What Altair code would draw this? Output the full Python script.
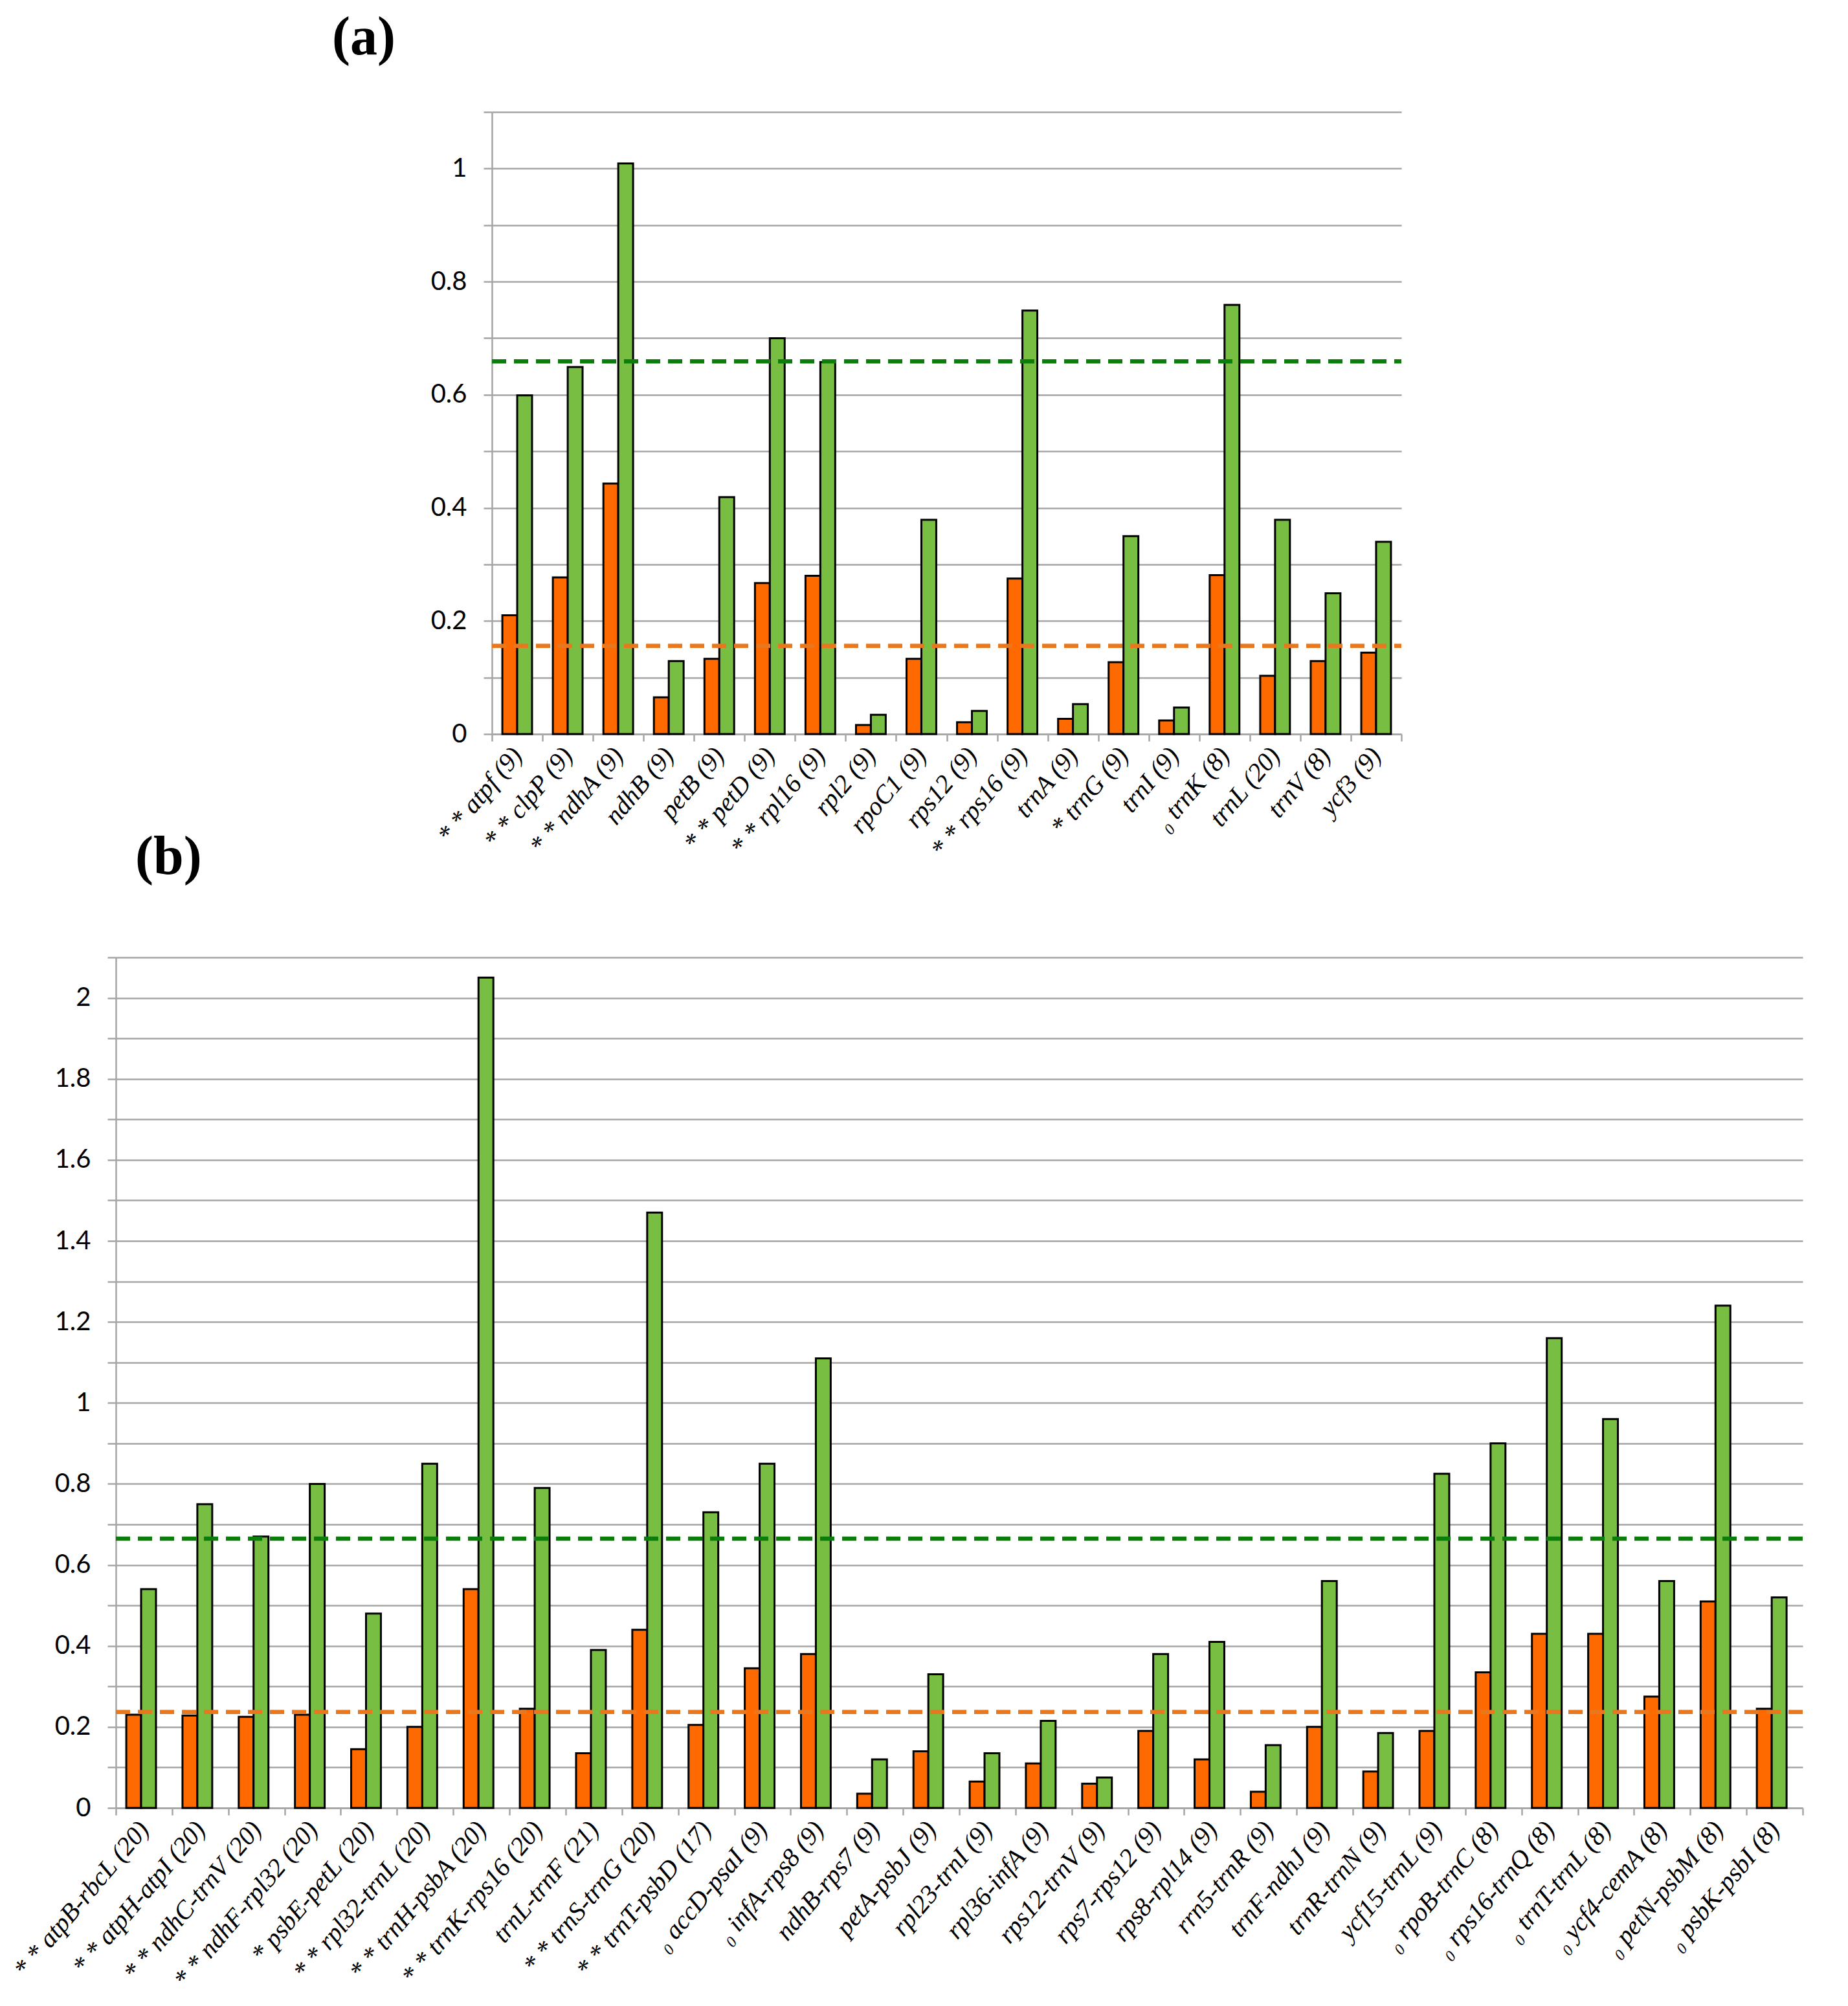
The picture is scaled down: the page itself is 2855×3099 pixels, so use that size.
import altair as alt
import pandas as pd

# ---------------- data ----------------
genes_a = ["* * atpf (9)", "* * clpP (9)", "* * ndhA (9)", "ndhB (9)", "petB (9)",
           "* * petD (9)", "* * rpl16 (9)", "rpl2 (9)", "rpoC1 (9)", "rps12 (9)",
           "* * rps16 (9)", "trnA (9)", "* trnG (9)", "trnI (9)", "\u2080 trnK (8)",
           "trnL (20)", "trnV (8)", "ycf3 (9)"]
orange_a = [0.21, 0.277, 0.443, 0.065, 0.133, 0.267, 0.280, 0.016, 0.133, 0.021,
            0.275, 0.027, 0.127, 0.024, 0.281, 0.103, 0.129, 0.144]
green_a = [0.599, 0.649, 1.009, 0.129, 0.419, 0.700, 0.658, 0.034, 0.379, 0.041,
           0.749, 0.053, 0.350, 0.047, 0.759, 0.379, 0.249, 0.340]
mean_a = [0.156, 0.659]          # orange mean, green mean
yticks_a = [0, 0.1, 0.2, 0.3, 0.4, 0.5, 0.6, 0.7, 0.8, 0.9, 1.0, 1.1]

genes_b = ["* * atpB-rbcL (20)", "* * atpH-atpI (20)", "* * ndhC-trnV (20)",
           "* * ndhF-rpl32 (20)", "* psbE-petL (20)", "* * rpl32-trnL (20)",
           "* * trnH-psbA (20)", "* * trnK-rps16 (20)", "trnL-trnF (21)",
           "* * trnS-trnG (20)", "* * trnT-psbD (17)", "\u2080 accD-psaI (9)",
           "\u2080 infA-rps8 (9)", "ndhB-rps7 (9)", "petA-psbJ (9)", "rpl23-trnI (9)",
           "rpl36-infA (9)", "rps12-trnV (9)", "rps7-rps12 (9)", "rps8-rpl14 (9)",
           "rrn5-trnR (9)", "trnF-ndhJ (9)", "trnR-trnN (9)", "ycf15-trnL (9)",
           "\u2080 rpoB-trnC (8)", "\u2080 rps16-trnQ (8)", "\u2080 trnT-trnL (8)",
           "\u2080 ycf4-cemA (8)", "\u2080 petN-psbM (8)", "\u2080 psbK-psbI (8)"]
orange_b = [0.23, 0.228, 0.225, 0.23, 0.145, 0.20, 0.54, 0.245, 0.135, 0.44,
            0.205, 0.345, 0.38, 0.035, 0.14, 0.065, 0.11, 0.06, 0.19, 0.12,
            0.04, 0.20, 0.09, 0.19, 0.335, 0.43, 0.43, 0.275, 0.51, 0.245]
green_b = [0.54, 0.75, 0.67, 0.80, 0.48, 0.85, 2.05, 0.79, 0.39, 1.47,
           0.73, 0.85, 1.11, 0.12, 0.33, 0.135, 0.215, 0.075, 0.38, 0.41,
           0.155, 0.56, 0.185, 0.825, 0.90, 1.16, 0.96, 0.56, 1.24, 0.52]
mean_b = [0.237, 0.665]
yticks_b = [0, 0.1, 0.2, 0.3, 0.4, 0.5, 0.6, 0.7, 0.8, 0.9, 1.0, 1.1, 1.2, 1.3,
            1.4, 1.5, 1.6, 1.7, 1.8, 1.9, 2.0, 2.1]

ORANGE = "#FF6A00"
GREEN = "#78BE43"
ORANGE_LINE = "#E8771E"
GREEN_LINE = "#0A7D0A"
GRID = "#A6A6A6"


def panel(genes, orange, green, means, yticks, left, W, H, pad_outer,
          title, title_dx, title_offset):
    n = len(genes)
    df = pd.DataFrame({
        "gene": genes + genes,
        "series": ["o"] * n + ["g"] * n,
        "value": orange + green,
    })
    xscale = alt.Scale(paddingInner=0, paddingOuter=0, range=[left, left + W])
    bars = alt.Chart(df).mark_bar(stroke="black", strokeWidth=3).encode(
        x=alt.X("gene:N", sort=genes, scale=xscale,
                axis=alt.Axis(title=None, labelAngle=-50, labelAlign="right",
                              labelBaseline="middle",
                              labelFont="Liberation Serif", labelFontStyle="italic",
                              labelFontSize=40, labelColor="black", labelPadding=15,
                              labelLimit=1000, labelOverlap=False,
                              tickBand="extent", ticks=True, tickColor=GRID,
                              tickSize=11, tickWidth=2.5, domainColor=GRID,
                              domainWidth=2.5, grid=False)),
        xOffset=alt.XOffset("series:N", sort=["o", "g"],
                            scale=alt.Scale(paddingInner=0, paddingOuter=pad_outer)),
        y=alt.Y("value:Q",
                scale=alt.Scale(domain=[0, yticks[-1]], nice=False, zero=True),
                axis=alt.Axis(title=None, values=yticks, offset=-left,
                              labelExpr="round(datum.value*10) % 2 == 0 ? toString(round(datum.value*10)/10) : ''",
                              labelFont="Lato", labelFontSize=40, labelColor="black",
                              labelPadding=26, grid=True, gridColor=GRID,
                              gridWidth=2.5, domainColor=GRID, domainWidth=2.5,
                              tickColor=GRID, tickSize=13, tickWidth=2.5)),
        color=alt.Color("series:N", scale=alt.Scale(domain=["o", "g"],
                                                     range=[ORANGE, GREEN]),
                        legend=None),
    )
    layers = [bars]
    for val, col in zip(means, [ORANGE_LINE, GREEN_LINE]):
        mdf = pd.DataFrame({"v": [val]})
        layers.append(
            alt.Chart(mdf).mark_rule(color=col, strokeDash=[22, 12], strokeWidth=6.5)
            .encode(x=alt.X(datum=genes[0], type="nominal", bandPosition=0),
                    x2=alt.X2(datum=genes[-1], bandPosition=1),
                    y="v:Q")
        )
    return alt.layer(*layers).properties(
        width=left + W, height=H,
        title=alt.TitleParams(title, anchor="start", frame="group", dx=title_dx,
                              offset=title_offset, font="Liberation Serif",
                              fontSize=84, fontWeight="bold", color="black"),
    )


chart_a = panel(genes_a, orange_a, green_a, mean_a, yticks_a, left=581,
                W=1405, H=961, pad_outer=0.70, title="(a)", title_dx=334,
                title_offset=70)
chart_b = panel(genes_b, orange_b, green_b, mean_b, yticks_b, left=0,
                W=2606, H=1314, pad_outer=0.81, title="(b)", title_dx=30,
                title_offset=110)

chart = alt.vconcat(chart_a, chart_b, spacing=345, bounds="flush").properties(
    padding={"left": 5, "top": 8, "right": 5, "bottom": 5},
    background="white",
).configure_view(stroke=None)

chart.save("out.html", embed_options={"renderer": "svg", "actions": False})
